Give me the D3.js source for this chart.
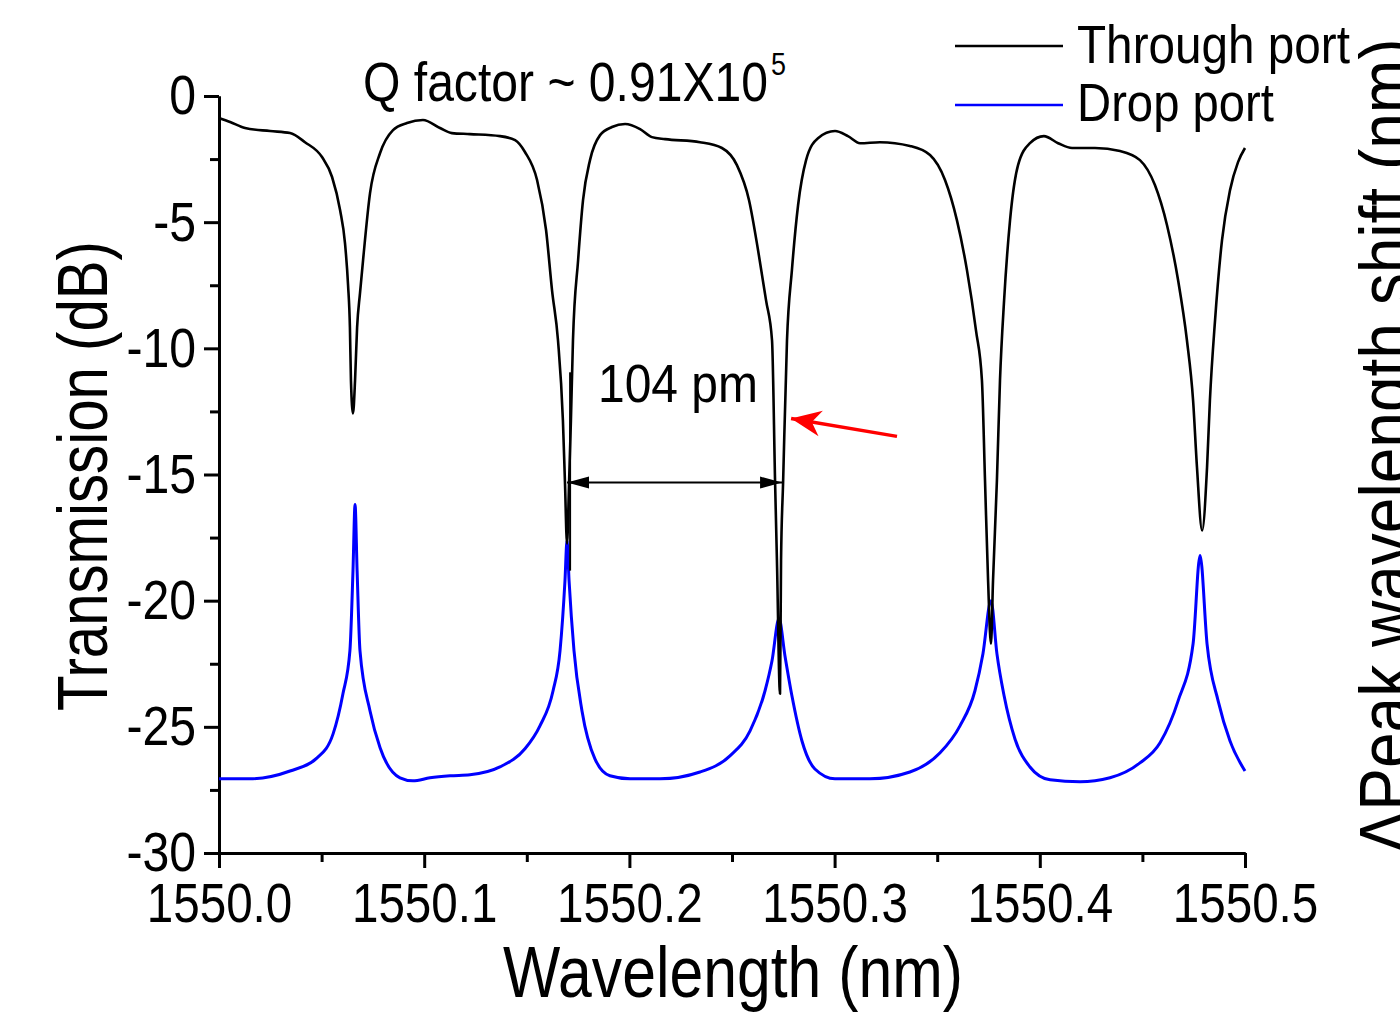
<!DOCTYPE html>
<html>
<head>
<meta charset="utf-8">
<script src="https://cdn.jsdelivr.net/npm/d3@7.9.0/dist/d3.min.js"></script>
<style>
  body { margin: 0; background: #fff; }
  svg { display: block; font-family: Arial, "Liberation Sans", sans-serif; }
</style>
</head>
<body>
<svg id="chart" width="1400" height="1016"></svg>
<script>
// Through port (black): wavelength (nm) / transmission (dB)
const throughWl = [
  1550.0000, 1550.0054, 1550.0127, 1550.0249, 1550.0346, 1550.0419, 1550.0502, 1550.0551,
  1550.0590, 1550.0614, 1550.0629, 1550.0638, 1550.0643, 1550.0653, 1550.0663, 1550.0673,
  1550.0687, 1550.0702, 1550.0736, 1550.0785, 1550.0848, 1550.0916, 1550.0994, 1550.1077,
  1550.1135, 1550.1223, 1550.1369, 1550.1443, 1550.1491, 1550.1550, 1550.1594, 1550.1623,
  1550.1652, 1550.1676, 1550.1686, 1550.1696, 1550.1706, 1550.1715, 1550.1725, 1550.1750,
  1550.1774, 1550.1808, 1550.1857, 1550.1915, 1550.1979, 1550.2052, 1550.2110, 1550.2174,
  1550.2344, 1550.2451, 1550.2524, 1550.2583, 1550.2627, 1550.2666, 1550.2695, 1550.2710,
  1550.2719, 1550.2734, 1550.2739, 1550.2749, 1550.2768, 1550.2792, 1550.2822, 1550.2861,
  1550.2919, 1550.3002, 1550.3065, 1550.3124, 1550.3221, 1550.3367, 1550.3465, 1550.3538,
  1550.3596, 1550.3645, 1550.3689, 1550.3718, 1550.3733, 1550.3748, 1550.3762, 1550.3772,
  1550.3791, 1550.3806, 1550.3826, 1550.3855, 1550.3894, 1550.3952, 1550.4020, 1550.4089,
  1550.4157, 1550.4269, 1550.4391, 1550.4488, 1550.4561, 1550.4620, 1550.4674, 1550.4717,
  1550.4747, 1550.4766, 1550.4791, 1550.4815, 1550.4829, 1550.4854, 1550.4888, 1550.4927,
  1550.4966, 1550.5000
];
const throughDb = [
  -0.87, -1.03, -1.27, -1.39, -1.47, -1.83, -2.42, -3.21,
  -4.52, -5.83, -7.50, -9.17, -11.27, -12.58, -11.27, -9.17,
  -7.82, -6.51, -3.85, -2.26, -1.35, -1.07, -0.95, -1.27,
  -1.47, -1.51, -1.59, -1.75, -2.22, -3.33, -5.32, -7.70,
  -9.68, -12.86, -15.32, -17.74, -15.32, -12.86, -9.68, -6.51,
  -4.13, -2.54, -1.55, -1.23, -1.11, -1.31, -1.63, -1.71,
  -1.83, -2.06, -2.74, -4.13, -6.11, -8.10, -9.68, -15.32,
  -18.41, -23.69, -18.41, -15.32, -9.68, -6.90, -4.33, -2.54,
  -1.67, -1.39, -1.59, -1.87, -1.83, -1.98, -2.34, -3.33,
  -4.92, -6.90, -9.29, -11.27, -15.24, -19.21, -21.71, -19.21,
  -15.24, -11.27, -8.10, -4.92, -2.74, -1.87, -1.59, -1.87,
  -2.06, -2.06, -2.18, -2.54, -3.53, -5.12, -7.30, -9.68,
  -12.06, -14.72, -17.22, -14.72, -12.06, -8.89, -5.71, -3.73,
  -2.62, -2.06
];

// Drop port (blue)
const dropWl = [
  1550.0000, 1550.0151, 1550.0346, 1550.0478, 1550.0556, 1550.0604, 1550.0638, 1550.0653,
  1550.0663, 1550.0673, 1550.0687, 1550.0736, 1550.0785, 1550.0882, 1550.0945, 1550.1028,
  1550.1126, 1550.1223, 1550.1369, 1550.1491, 1550.1564, 1550.1628, 1550.1662, 1550.1686,
  1550.1696, 1550.1706, 1550.1730, 1550.1769, 1550.1832, 1550.1905, 1550.2003, 1550.2149,
  1550.2344, 1550.2490, 1550.2588, 1550.2661, 1550.2695, 1550.2729, 1550.2758, 1550.2792,
  1550.2841, 1550.2904, 1550.3002, 1550.3172, 1550.3367, 1550.3514, 1550.3611, 1550.3684,
  1550.3723, 1550.3762, 1550.3791, 1550.3826, 1550.3879, 1550.3952, 1550.4050, 1550.4196,
  1550.4342, 1550.4488, 1550.4586, 1550.4674, 1550.4747, 1550.4781, 1550.4815, 1550.4869,
  1550.4927, 1550.5000
];
const dropDb = [
  -27.06, -27.06, -26.75, -26.23, -25.28, -23.69, -21.98, -18.81,
  -16.19, -18.81, -21.98, -24.37, -25.83, -27.02, -27.14, -27.02,
  -26.94, -26.90, -26.59, -25.87, -24.96, -23.57, -21.98, -19.21,
  -17.62, -19.21, -21.98, -24.37, -26.27, -26.94, -27.06, -27.06,
  -26.79, -26.15, -25.16, -23.57, -22.38, -20.71, -22.18, -23.77,
  -25.56, -26.67, -27.06, -27.06, -26.79, -26.03, -24.96, -23.57,
  -22.10, -20.00, -22.10, -23.77, -25.48, -26.59, -27.10, -27.18,
  -27.02, -26.43, -25.63, -23.97, -21.71, -18.21, -21.71, -23.97,
  -25.56, -26.75
];

const xMajor = [1550.0, 1550.1, 1550.2, 1550.3, 1550.4, 1550.5];
const xMinor = [1550.05, 1550.15, 1550.25, 1550.35, 1550.45];
const yMajor = [0, -5, -10, -15, -20, -25, -30];
const yMinor = [-2.5, -7.5, -12.5, -17.5, -22.5, -27.5];

const seriesNames = ['Through port', 'Drop port'];
const seriesColors = ['#000000', '#0000ff'];

// FSR annotation (nm, dB)
const fsrFrom = [1550.1696, -15.32];
const fsrTo = [1550.2744, -15.32];
const fsrMarker = [1550.1711, -10.95, -18.81];
const redArrowFrom = [1550.3304, -13.49];
const redArrowTo = [1550.2788, -12.78];

const svg = d3.select('#chart');

const x = d3.scaleLinear().domain([1550.0, 1550.5]).range([219, 1245]);
const y = d3.scaleLinear().domain([-30, 0]).range([853, 96]);

// squeeze text horizontally, the original font is a narrow one
function squeeze(sel, k) {
  sel.each(function () {
    const w = this.getComputedTextLength();
    d3.select(this).attr('textLength', w * k).attr('lengthAdjust', 'spacingAndGlyphs');
  });
}

const defs = svg.append('defs');
defs.append('marker')
  .attr('id', 'head-black')
  .attr('viewBox', '-24 -8 26 16')
  .attr('refX', 0).attr('refY', 0)
  .attr('markerWidth', 26).attr('markerHeight', 16)
  .attr('markerUnits', 'userSpaceOnUse')
  .attr('orient', 'auto-start-reverse')
  .append('path').attr('d', 'M0,0L-22,-6L-22,6Z').attr('fill', '#000');
defs.append('marker')
  .attr('id', 'head-red')
  .attr('viewBox', '-32 -16 34 32')
  .attr('refX', 0).attr('refY', 0)
  .attr('markerWidth', 34).attr('markerHeight', 32)
  .attr('markerUnits', 'userSpaceOnUse')
  .attr('orient', 'auto')
  .append('path').attr('d', 'M0,0L-30,-13L-21,0L-30,13Z').attr('fill', '#ff0000');

// axes
const xAxisMinor = svg.append('g')
  .attr('transform', `translate(0,${y(-30)})`)
  .call(d3.axisBottom(x).tickValues(xMinor).tickSize(9).tickSizeOuter(0).tickFormat(''));
const xAxis = svg.append('g')
  .attr('transform', `translate(0,${y(-30)})`)
  .call(d3.axisBottom(x).tickValues(xMajor).tickSize(15).tickSizeOuter(0).tickPadding(14)
    .tickFormat(d3.format('.1f')));
const yAxisMinor = svg.append('g')
  .attr('transform', `translate(${x(1550.0)},0)`)
  .call(d3.axisLeft(y).tickValues(yMinor).tickSize(9).tickSizeOuter(0).tickFormat(''));
const yAxis = svg.append('g')
  .attr('transform', `translate(${x(1550.0)},0)`)
  .call(d3.axisLeft(y).tickValues(yMajor).tickSize(15).tickSizeOuter(0).tickPadding(8)
    .tickFormat(d => d));

[xAxisMinor, xAxis, yAxisMinor, yAxis].forEach(g => {
  g.selectAll('path.domain').attr('stroke', '#000').attr('stroke-width', 3);
  g.selectAll('line').attr('stroke', '#000').attr('stroke-width', 3);
});
xAxis.selectAll('text')
  .attr('font-size', 56).attr('font-family', 'Arial, "Liberation Sans", sans-serif').attr('fill', '#000');
yAxis.selectAll('text')
  .attr('font-size', 56).attr('font-family', 'Arial, "Liberation Sans", sans-serif').attr('fill', '#000');
squeeze(xAxis.selectAll('text'), 0.85);
squeeze(yAxis.selectAll('text'), 0.86);

// curves
const line = d3.line()
  .x(d => x(d[0]))
  .y(d => y(d[1]))
  .curve(d3.curveMonotoneX);

const dropData = dropWl.map((w, i) => [w, dropDb[i]]);
const throughData = throughWl.map((w, i) => [w, throughDb[i]]);

svg.append('path')
  .datum(dropData)
  .attr('d', line)
  .attr('fill', 'none')
  .attr('stroke', seriesColors[1])
  .attr('stroke-width', 3)
  .attr('stroke-linejoin', 'round');

svg.append('path')
  .datum(throughData)
  .attr('d', line)
  .attr('fill', 'none')
  .attr('stroke', seriesColors[0])
  .attr('stroke-width', 2.6)
  .attr('stroke-linejoin', 'round');

// FSR annotation
svg.append('line')
  .attr('x1', x(fsrMarker[0])).attr('x2', x(fsrMarker[0]))
  .attr('y1', y(fsrMarker[1])).attr('y2', y(fsrMarker[2]))
  .attr('stroke', '#000').attr('stroke-width', 2);
svg.append('line')
  .attr('x1', x(fsrFrom[0])).attr('y1', y(fsrFrom[1]))
  .attr('x2', x(fsrTo[0])).attr('y2', y(fsrTo[1]))
  .attr('stroke', '#000').attr('stroke-width', 2)
  .attr('marker-start', 'url(#head-black)')
  .attr('marker-end', 'url(#head-black)');
svg.append('text')
  .attr('x', 598).attr('y', 402)
  .attr('font-size', 53)
  .attr('textLength', 160).attr('lengthAdjust', 'spacingAndGlyphs')
  .text('104 pm');

// red arrow
svg.append('line')
  .attr('x1', x(redArrowFrom[0])).attr('y1', y(redArrowFrom[1]))
  .attr('x2', x(redArrowTo[0])).attr('y2', y(redArrowTo[1]))
  .attr('stroke', '#ff0000').attr('stroke-width', 3.5)
  .attr('marker-end', 'url(#head-red)');

// Q factor label
svg.append('text')
  .attr('x', 363).attr('y', 101)
  .attr('font-size', 56)
  .attr('textLength', 405).attr('lengthAdjust', 'spacingAndGlyphs')
  .text('Q factor ~ 0.91X10');
svg.append('text')
  .attr('x', 771).attr('y', 75)
  .attr('font-size', 32)
  .attr('textLength', 15).attr('lengthAdjust', 'spacingAndGlyphs')
  .text('5');

// axis titles
svg.append('text')
  .attr('transform', 'translate(107,476) rotate(-90)')
  .attr('text-anchor', 'middle')
  .attr('font-size', 70)
  .attr('textLength', 470).attr('lengthAdjust', 'spacingAndGlyphs')
  .text('Transmission (dB)');
svg.append('text')
  .attr('x', 733).attr('y', 997)
  .attr('text-anchor', 'middle')
  .attr('font-size', 72)
  .attr('textLength', 460).attr('lengthAdjust', 'spacingAndGlyphs')
  .text('Wavelength (nm)');
svg.append('text')
  .attr('transform', 'translate(1410,446) rotate(-90)')
  .attr('text-anchor', 'middle')
  .attr('font-size', 72)
  .attr('textLength', 815).attr('lengthAdjust', 'spacingAndGlyphs')
  .text('\u0394Peak wavelength shift (nm)');

// legend
const legend = svg.append('g');
const legendY = [46, 105];
const legendBase = [63, 121];
const legendLen = [273, 197];
seriesNames.forEach((name, i) => {
  legend.append('line')
    .attr('x1', 955).attr('x2', 1063)
    .attr('y1', legendY[i]).attr('y2', legendY[i])
    .attr('stroke', seriesColors[i]).attr('stroke-width', 2.5);
  legend.append('text')
    .attr('x', 1077).attr('y', legendBase[i])
    .attr('font-size', 53)
    .attr('textLength', legendLen[i]).attr('lengthAdjust', 'spacingAndGlyphs')
    .text(name);
});
</script>
</body>
</html>
